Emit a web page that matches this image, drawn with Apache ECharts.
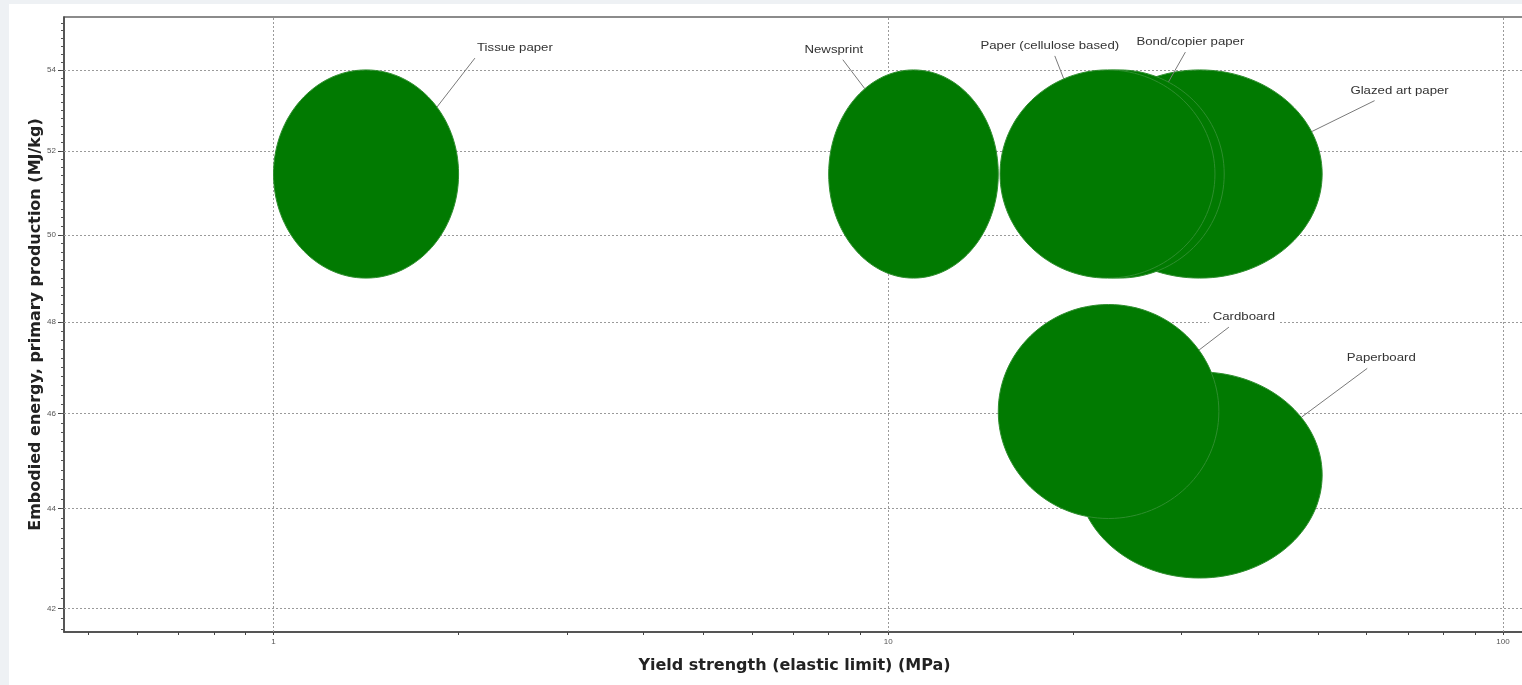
<!DOCTYPE html>
<html lang="en">
<head>
<meta charset="UTF-8">
<title>Embodied energy vs yield strength</title>
<style>
  html, body { margin: 0; padding: 0; background: #eef1f4; overflow: hidden; }
  #chart { position: absolute; left: 9px; top: 4px; width: 1520px; height: 681px; background: #fff; }
</style>
</head>
<body>
<div id="chart"></div>
<script src="https://cdn.jsdelivr.net/npm/echarts@6/dist/echarts.min.js"></script>
<script>
// materials, listed back to front (later ones are drawn on top)
var names = ['Tissue paper', 'Newsprint', 'Glazed art paper', 'Bond/copier paper',
             'Paper (cellulose based)', 'Paperboard', 'Cardboard'];
var yieldMin = [1, 8, 20.3, 16, 15.2, 20.3, 15.1];      // MPa
var yieldMax = [2, 15.1, 50.8, 35.2, 34, 50.8, 34.5];   // MPa
var energyMin = [49, 49, 49, 49, 49, 42.6, 43.8];       // MJ/kg
var energyMax = [54, 54, 54, 54, 54, 46.9, 48.4];       // MJ/kg

// axis ticks
var xLabels = [1, 10, 100];
var xTicks = [0.5, 0.6, 0.7, 0.8, 0.9, 1, 2, 3, 4, 5, 6, 7, 8, 9, 10,
              20, 30, 40, 50, 60, 70, 80, 90, 100];
var yLabels = [42, 44, 46, 48, 50, 52, 54];
var yMinor = [];
for (var t = 416; t <= 552; t += 2) yMinor.push(t / 10);

// leader lines: [angle on ellipse (deg), line dx, line dy, text dx]
var callouts = [
  [-40, 38, -49, 40],
  [-125, -22, -29, -9],
  [-24, 63, -31, 25],
  [-62, 17, -30, 5],
  [-114, -9, -23, -5],
  [-34, 66, -49, 14],
  [-35, 30, -23, 15]
];

var data = names.map(function (n, i) {
  return [yieldMin[i], yieldMax[i], energyMin[i], energyMax[i]];
});

function renderItem(params, api) {
  var i = params.dataIndex;
  var p0 = api.coord([api.value(0), api.value(3)]);
  var p1 = api.coord([api.value(1), api.value(2)]);
  var cx = (p0[0] + p1[0]) / 2, cy = (p0[1] + p1[1]) / 2;
  var rx = Math.abs(p1[0] - p0[0]) / 2, ry = Math.abs(p1[1] - p0[1]) / 2;
  var c = callouts[i];
  var a = c[0] * Math.PI / 180;
  var sx = cx + rx * Math.cos(a), sy = cy + ry * Math.sin(a);
  var ex = sx + c[1], ey = sy + c[2];
  return {
    type: 'group',
    children: [
      { type: 'line', shape: { x1: sx, y1: sy, x2: ex, y2: ey },
        style: { stroke: '#7a7a7a', lineWidth: 1 } },
      { type: 'ellipse', shape: { cx: cx, cy: cy, rx: rx, ry: ry },
        style: { fill: '#017a01', stroke: '#2e8e2e', lineWidth: 1 } },
      // the source picture is stretched sideways, so the text is too
      { type: 'text', x: ex + c[3], y: ey - 10, scaleX: 1.2,
        style: { text: names[i], fill: '#333', font: '11px "Liberation Sans", Arial',
                 align: 'center', verticalAlign: 'middle',
                 backgroundColor: '#fff', padding: [1, 3] } }
    ]
  };
}

var gridLines = yLabels.map(function (v) { return { yAxis: v }; })
  .concat(xLabels.map(function (v) { return { xAxis: v }; }));

var titleStyle = { fontSize: 16, fontWeight: 'bold', color: '#222', fontFamily: '"DejaVu Sans", sans-serif' };
var tickLabel = { fontSize: 8, color: '#555', fontFamily: '"Liberation Sans", Arial' };

var chart = echarts.init(document.getElementById('chart'));
var option = {
  animation: false,
  grid: { left: 55, top: 13, right: 4, bottom: 53, show: true,
          borderColor: '#666', borderWidth: 1.5, backgroundColor: '#fff' },
  xAxis: {
    type: 'log', logBase: 10, min: 0.4562, max: 108.6,
    name: 'Yield strength (elastic limit) (MPa)', nameLocation: 'middle', nameGap: 26,
    nameTextStyle: titleStyle,
    axisLine: { lineStyle: { color: '#444', width: 1.5 } },
    axisTick: { customValues: xTicks, length: 3, lineStyle: { color: '#444' } },
    axisLabel: Object.assign({ customValues: xLabels, margin: 6 }, tickLabel),
    splitLine: { show: false }
  },
  yAxis: [{
    type: 'log', logBase: 10, min: 41.54, max: 55.35, position: 'left',
    name: 'Embodied energy, primary production (MJ/kg)', nameLocation: 'middle',
    nameGap: 20, nameMoveOverlap: false,
    nameTextStyle: titleStyle,
    axisLine: { show: true, lineStyle: { color: '#444', width: 1.5 } },
    axisTick: { show: true, customValues: yLabels, length: 6, lineStyle: { color: '#444' } },
    axisLabel: Object.assign({ customValues: yLabels, margin: 8 }, tickLabel),
    splitLine: { show: false }
  }, {
    type: 'log', logBase: 10, min: 41.54, max: 55.35, position: 'left', offset: 0,
    axisLine: { show: false },
    axisTick: { show: true, customValues: yMinor, length: 3, lineStyle: { color: '#555' } },
    axisLabel: { show: false },
    splitLine: { show: false }
  }],
  series: [{
    type: 'custom',
    renderItem: renderItem,
    data: data,
    z: 2,
    markLine: {
      z: 1, silent: true, symbol: ['none', 'none'],
      label: { show: false },
      lineStyle: { color: '#9a9a9a', type: [2, 2], width: 1 },
      data: gridLines
    }
  }]
};
chart.setOption(option);
</script>
</body>
</html>
